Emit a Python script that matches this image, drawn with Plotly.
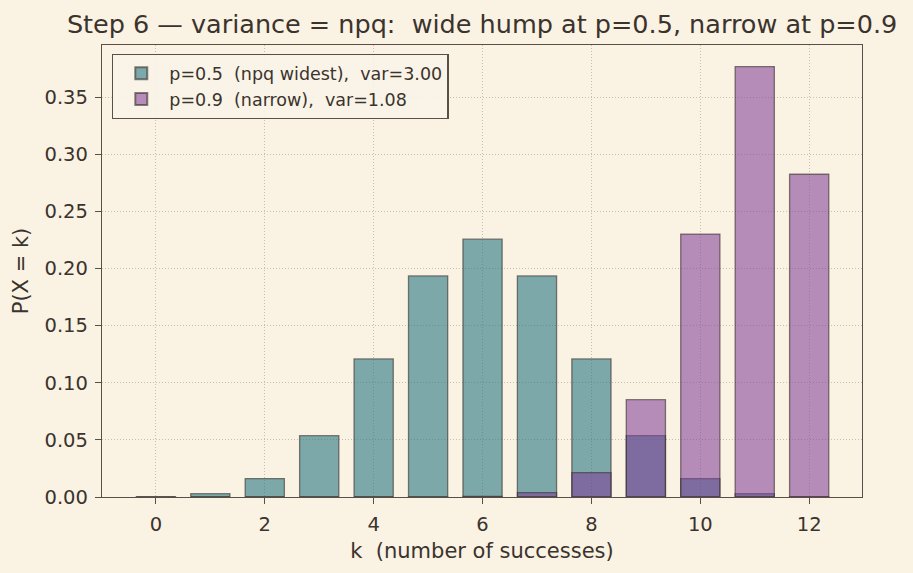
import plotly.graph_objects as go

k_values = list(range(13))
p05_probs = [0.000244, 0.00293, 0.0161, 0.0537, 0.1208, 0.1934, 0.2256,
             0.1934, 0.1208, 0.0537, 0.0161, 0.00293, 0.000244]
p09_probs = [0.0, 0.0, 0.0, 0.0, 0.000001, 0.00004, 0.0005,
             0.0038, 0.0213, 0.0852, 0.2301, 0.3766, 0.2824]
label_p05 = "p=0.5\u00a0\u00a0(npq widest),\u00a0\u00a0var=3.00"
label_p09 = "p=0.9\u00a0\u00a0(narrow),\u00a0\u00a0var=1.08"
x_ticks = [0, 2, 4, 6, 8, 10, 12]
y_ticks = [0.00, 0.05, 0.10, 0.15, 0.20, 0.25, 0.30, 0.35]

BG = "#faf2e3"
INK = "#3b332d"
SPINE = "#5a4f46"
FONT = "DejaVu Sans"

fig = go.Figure()
fig.add_trace(go.Bar(
    x=k_values, y=p05_probs, width=0.72, name=label_p05,
    marker=dict(color="rgba(28,112,124,0.57)",
                line=dict(color="rgba(55,45,40,0.6)", width=1.3)),
))
fig.add_trace(go.Bar(
    x=k_values, y=p09_probs, width=0.72, name=label_p09,
    marker=dict(color="rgba(128,62,152,0.57)",
                line=dict(color="rgba(55,45,40,0.6)", width=1.3)),
))

axis_common = dict(
    showline=True, linecolor=SPINE, linewidth=1.4, mirror=True,
    ticks="outside", ticklen=6, tickwidth=1.4, tickcolor=SPINE,
    showgrid=True, gridcolor="rgba(150,140,125,0.5)", griddash="1px,2px", gridwidth=1,
    zeroline=False, ticklabelstandoff=3,
    tickfont=dict(family=FONT, size=19.5, color=INK),
)

fig.update_layout(
    width=913, height=573,
    paper_bgcolor=BG, plot_bgcolor=BG,
    barmode="overlay",
    margin=dict(l=102, r=51, t=45, b=76),
    font=dict(family=FONT, color=INK),
    title=dict(
        text="Step 6 \u2014 variance = npq:\u00a0\u00a0wide hump at p=0.5, narrow at p=0.9",
        x=0.528, xanchor="center", y=0.958, yanchor="middle",
        font=dict(family=FONT, size=25.5, color=INK),
    ),
    xaxis=dict(
        **axis_common, range=[-0.99, 12.97],
        tickvals=x_ticks, ticktext=[str(v) for v in x_ticks],
        title=dict(text="k\u00a0\u00a0(number of successes)", standoff=8,
                   font=dict(family=FONT, size=21, color=INK)),
    ),
    yaxis=dict(
        **axis_common, range=[0, 0.3955],
        tickvals=y_ticks, ticktext=[f"{v:.2f}" for v in y_ticks],
        title=dict(text="P(X = k)", standoff=10,
                   font=dict(family=FONT, size=21, color=INK)),
    ),
    legend=dict(
        x=0.013, y=0.98, xanchor="left", yanchor="top",
        bgcolor="rgba(250,244,232,0.9)", bordercolor=SPINE, borderwidth=1.4,
        font=dict(family=FONT, size=17.5, color=INK),
        itemsizing="constant", itemwidth=46, tracegroupgap=0,
    ),
)

fig.write_html("out.html")
